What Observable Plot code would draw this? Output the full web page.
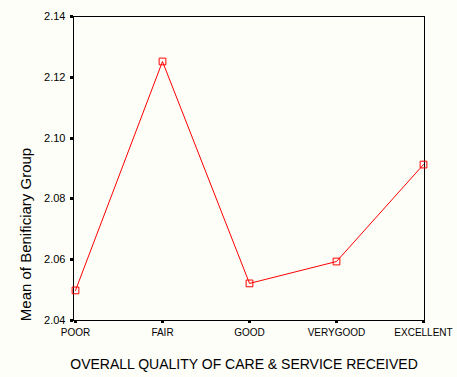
<!DOCTYPE html>
<html>
<head>
<meta charset="utf-8">
<script src="https://cdn.jsdelivr.net/npm/d3@7"></script>
<script src="https://cdn.jsdelivr.net/npm/@observablehq/plot@0.6"></script>
<style>
  html, body { margin: 0; padding: 0; background: #fefef8; }
  #chart { width: 457px; height: 377px; }
</style>
</head>
<body>
<div id="chart"></div>
<script>
const categories = ["POOR", "FAIR", "GOOD", "VERYGOOD", "EXCELLENT"];
const means = [2.0499, 2.1252, 2.0522, 2.0594, 2.0913];
const yTicks = [2.04, 2.06, 2.08, 2.10, 2.12, 2.14];
const xTitle = "OVERALL QUALITY OF CARE & SERVICE RECEIVED";
const yTitle = "Mean of Benificiary Group";

const data = categories.map((c, i) => ({ category: c, mean: means[i] }));

const chart = Plot.plot({
  width: 457,
  height: 377,
  marginLeft: 73,
  marginRight: 33,
  marginTop: 16,
  marginBottom: 57,
  style: { background: "#fefef8", fontFamily: "Arial, 'Liberation Sans', sans-serif", color: "#000" },
  x: { type: "point", domain: categories, padding: 0 },
  y: { domain: [2.04, 2.14] },
  marks: [
    Plot.frame({ stroke: "#000", strokeWidth: 1, shapeRendering: "crispEdges" }),
    Plot.axisY({ ticks: yTicks, tickFormat: d3.format(".2f"), tickSize: 3, strokeWidth: 3, tickPadding: 5, fontSize: 11, label: null, shapeRendering: "crispEdges" }),
    Plot.axisX({ tickSize: 3, strokeWidth: 3, tickPadding: 5, fontSize: 10, label: null, shapeRendering: "crispEdges" }),
    Plot.line(data, { x: "category", y: "mean", stroke: "#ff0000", strokeWidth: 1 }),
    Plot.dot(data, { x: "category", y: "mean", symbol: "square", r: 3.8, stroke: "#ff0000", fill: "none", strokeWidth: 1 }),
    Plot.text([xTitle], { frameAnchor: "bottom", dy: 48, dx: -5, fontSize: 14, textAnchor: "middle", fill: "#000" }),
    Plot.text([yTitle], { frameAnchor: "left", dx: -47, dy: 66, rotate: -90, fontSize: 15, textAnchor: "middle", fill: "#000" })
  ]
});
document.getElementById("chart").appendChild(chart);
</script>
</body>
</html>
